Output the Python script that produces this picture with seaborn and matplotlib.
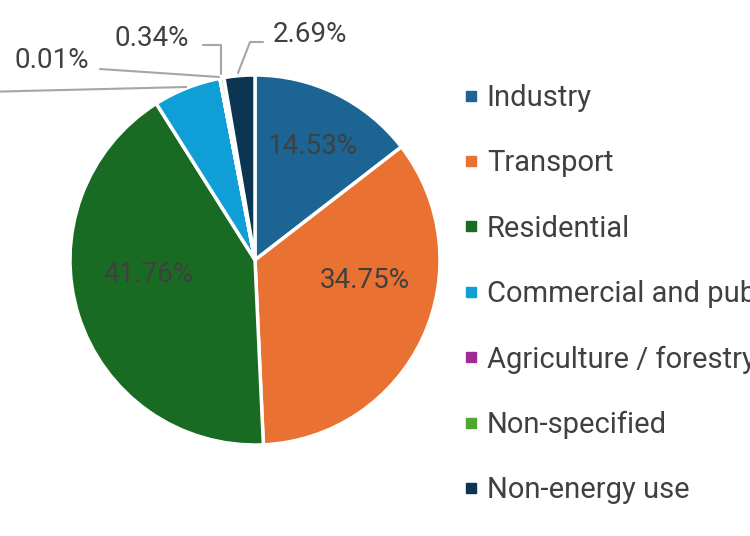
import matplotlib
matplotlib.use("Agg")
import matplotlib.pyplot as plt
from matplotlib.lines import Line2D
import seaborn as sns

# ---- data ----
categories = ["Industry", "Transport", "Residential", "Commercial and public services",
              "Agriculture / forestry", "Non-specified", "Non-energy use"]
shares = [14.53, 34.75, 41.76, 5.92, 0.01, 0.34, 2.69]
colors = ["#1B6493", "#E97132", "#196B24", "#0F9ED5", "#A02B93", "#4EA72E", "#0B3550"]

sns.set_theme(style="white")
plt.rcParams["font.family"] = ["Roboto", "DejaVu Sans"]

W, H = 750, 536
fig = plt.figure(figsize=(W / 100, H / 100), dpi=100)
ax = fig.add_axes([0, 0, 1, 1])

def Y(py):
    return H - py

cx, cy, r = 255, Y(260), 185
txt_color = "#404040"

wedges, _ = ax.pie(shares, colors=colors, startangle=90, counterclock=False,
                   center=(cx, cy), radius=r,
                   wedgeprops=dict(edgecolor="white", linewidth=2.5))

ax.set_xlim(0, W)
ax.set_ylim(0, H)
ax.set_aspect("equal")
ax.axis("off")

def pct(v):
    return f"{v:.2f}%"

# inner labels
inner_pos = {0: (313, 146), 1: (365, 280), 2: (148, 275)}
for i, (px, py) in inner_pos.items():
    ax.text(px, Y(py), pct(shares[i]), ha="center", va="center",
            fontsize=20, color=txt_color)

# outer labels with leader lines
line_c = "#A6A6A6"
# commercial (label lies off the left side of the picture)
ax.plot([187, -60], [Y(87), Y(93)], color=line_c, lw=1.5, solid_capstyle="butt")
# agriculture 0.01%
ax.plot([219, 100], [Y(77), Y(69)], color=line_c, lw=1.5)
ax.text(52, Y(61), pct(shares[4]), ha="center", va="center", fontsize=20, color=txt_color)
# non-specified 0.34%
ax.plot([221, 221, 203], [Y(74), Y(45), Y(45)], color=line_c, lw=1.5)
ax.text(152, Y(39), pct(shares[5]), ha="center", va="center", fontsize=20, color=txt_color)
# non-energy 2.69%
ax.plot([238, 250, 263], [Y(73), Y(42), Y(42)], color=line_c, lw=1.5)
ax.text(310, Y(34), pct(shares[6]), ha="center", va="center", fontsize=20, color=txt_color)

handles = [Line2D([0], [0], marker="s", linestyle="none", markersize=7.2,
                  markerfacecolor=c, markeredgecolor=c) for c in colors]
leg = ax.legend(handles, categories, loc="upper left", bbox_to_anchor=(464 / W, 1 - 84 / H),
                frameon=False, fontsize=21, handlelength=0.48, handletextpad=0.3,
                labelspacing=1.28, borderpad=0, borderaxespad=0)
for t in leg.get_texts():
    t.set_color(txt_color)

fig.savefig("out.png", dpi=100)
